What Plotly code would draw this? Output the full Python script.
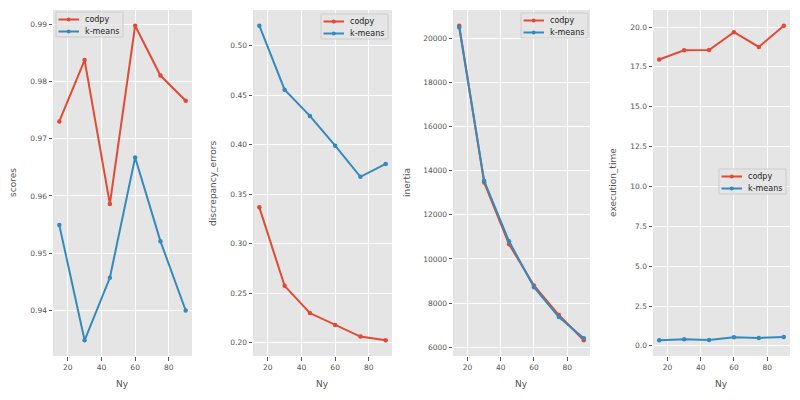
import plotly.graph_objects as go

ny = [15, 30, 45, 60, 75, 90]

scores_codpy = [0.9730, 0.9837, 0.9586, 0.9897, 0.9810, 0.9766]
scores_kmeans = [0.9549, 0.9348, 0.9457, 0.9667, 0.9521, 0.9400]

discrepancy_codpy = [0.3366, 0.2573, 0.2298, 0.2177, 0.2060, 0.2023]
discrepancy_kmeans = [0.5201, 0.4555, 0.4290, 0.3989, 0.3674, 0.3805]

inertia_codpy = [20556, 13459, 10662, 8797, 7459, 6316]
inertia_kmeans = [20481, 13534, 10797, 8722, 7368, 6406]

time_codpy = [17.96, 18.54, 18.55, 19.67, 18.75, 20.08]
time_kmeans = [0.35, 0.42, 0.37, 0.54, 0.50, 0.56]

series_names = ["codpy", "k-means"]

RED = "#E24A33"
BLUE = "#348ABD"
GREY = "#555555"
FONT = "DejaVu Sans"

# page body has an 8px margin, so the figure is shifted; work in window pixels
OFF = 8
W, H = 800 - OFF, 400 - OFF


def px(x):
    return (x - OFF) / W


def py(y):
    return 1 - (y - OFF) / H


panels = [
    ("scores", scores_codpy, scores_kmeans, [0.94, 0.95, 0.96, 0.97, 0.98, 0.99], ".2f", (53, 192)),
    ("discrepancy_errors", discrepancy_codpy, discrepancy_kmeans,
     [0.20, 0.25, 0.30, 0.35, 0.40, 0.45, 0.50], ".2f", (253, 392)),
    ("inertia", inertia_codpy, inertia_kmeans, list(range(6000, 20001, 2000)), "d", (453, 590)),
    ("execution_time", time_codpy, time_kmeans, [0, 2.5, 5, 7.5, 10, 12.5, 15, 17.5, 20], ".1f", (653, 790)),
]
ylabel_x = [13, 213, 407, 613]
legend_box = [(56, 12), (321, 14), (521, 13), (719, 169)]  # left, top in window px

plot_top, plot_bottom = 10, 356

fig = go.Figure()
annotations = []
shapes = []
layout = {}

for i, (name, c, k, yticks, fmt, (x0, x1)) in enumerate(panels):
    n = "" if i == 0 else str(i + 1)
    for vals, color, label in [(c, RED, series_names[0]), (k, BLUE, series_names[1])]:
        fig.add_trace(go.Scatter(x=ny, y=vals, name=label, mode="lines+markers",
                                 line=dict(color=color, width=2), marker=dict(size=4.5, color=color),
                                 xaxis="x" + n, yaxis="y" + n, showlegend=False))

    lo, hi = min(c + k), max(c + k)
    pad = (hi - lo) * 0.05
    common = dict(showgrid=True, gridcolor="white", gridwidth=1, zeroline=False, showline=False,
                  ticks="outside", ticklen=3.5, tickwidth=1, tickcolor=GREY, automargin=False,
                  tickfont=dict(family=FONT, size=7.5, color=GREY))
    layout["xaxis" + n] = dict(domain=[px(x0), px(x1)], anchor="y" + n,
                               range=[11.25, 93.75], tickvals=[20, 40, 60, 80], **common)
    layout["yaxis" + n] = dict(domain=[py(plot_bottom), py(plot_top)], anchor="x" + n,
                               range=[lo - pad, hi + pad], tickvals=yticks, tickformat=fmt, **common)

    annotations.append(dict(text=name, xref="paper", yref="paper", x=px(ylabel_x[i]),
                            y=py((plot_top + plot_bottom) / 2), textangle=-90, showarrow=False,
                            xanchor="center", yanchor="middle",
                            font=dict(family=FONT, size=9, color=GREY)))
    annotations.append(dict(text="Ny", xref="paper", yref="paper", x=px((x0 + x1) / 2),
                            y=py(384), showarrow=False, xanchor="center", yanchor="middle",
                            font=dict(family=FONT, size=9, color=GREY)))

    # matplotlib-like compact legend
    L, T = legend_box[i]
    shapes.append(dict(type="rect", xref="paper", yref="paper", x0=px(L), x1=px(L + 67),
                       y0=py(T + 25), y1=py(T), fillcolor="rgba(229,229,229,0.8)",
                       line=dict(color="#cccccc", width=1), layer="above"))
    for j, (color, label) in enumerate([(RED, series_names[0]), (BLUE, series_names[1])]):
        ry = T + 7.5 + 12 * j
        shapes.append(dict(type="line", xref="paper", yref="paper", x0=px(L + 2.5), x1=px(L + 23),
                           y0=py(ry), y1=py(ry), line=dict(color=color, width=2), layer="above"))
        shapes.append(dict(type="circle", xref="paper", yref="paper", x0=px(L + 10.7), x1=px(L + 14.7),
                           y0=py(ry + 2), y1=py(ry - 2), fillcolor=color, line=dict(width=0),
                           layer="above"))
        annotations.append(dict(text=label, xref="paper", yref="paper", x=px(L + 27), y=py(ry),
                                showarrow=False, xanchor="left", yanchor="middle",
                                font=dict(family=FONT, size=8, color="#222222")))

fig.update_layout(**layout)
fig.update_layout(width=W, height=H, margin=dict(l=0, r=0, t=0, b=0),
                  paper_bgcolor="white", plot_bgcolor="#E5E5E5",
                  font=dict(family=FONT), annotations=annotations, shapes=shapes)

fig.write_html("out.html")
